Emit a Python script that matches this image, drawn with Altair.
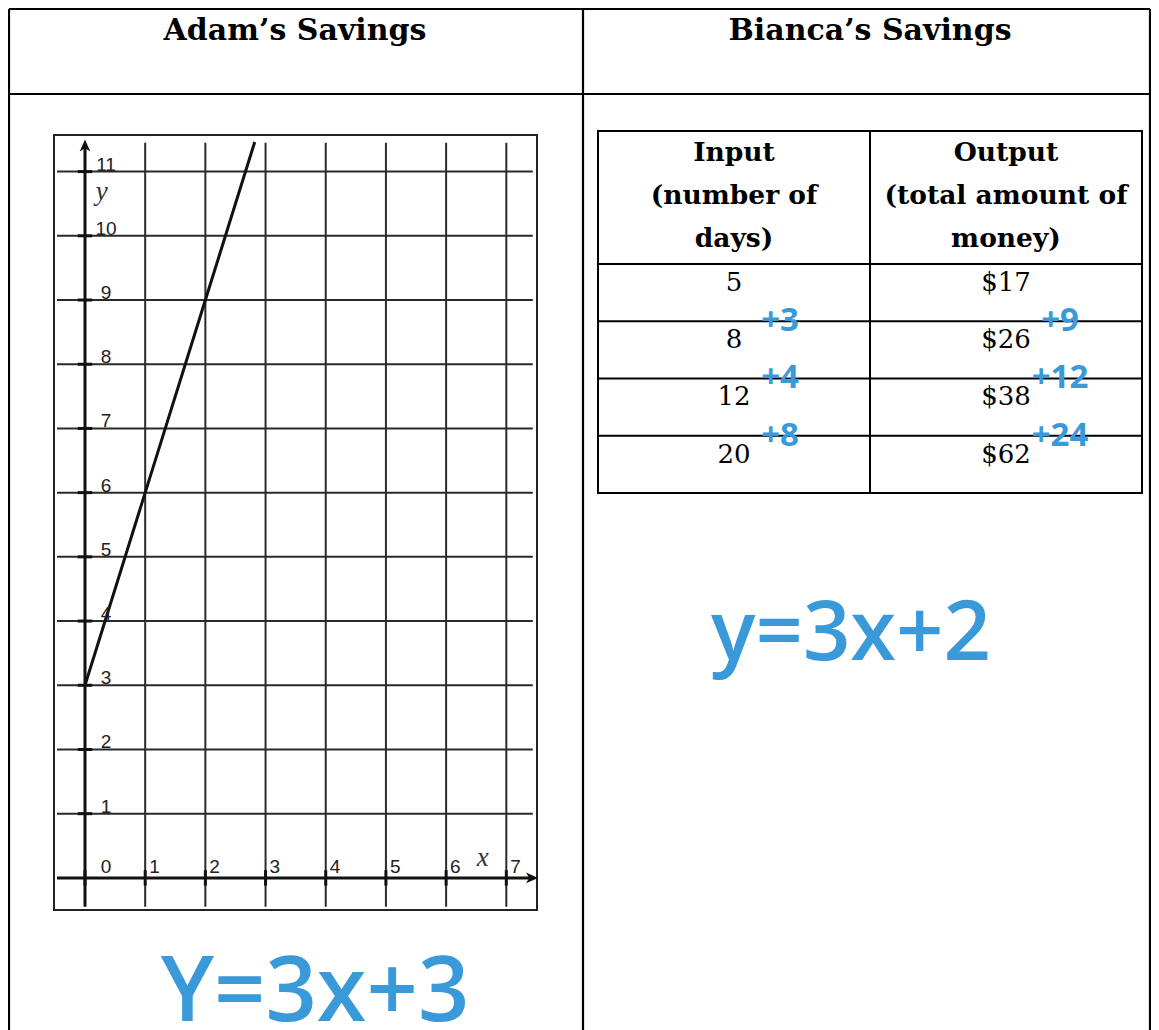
import altair as alt
import pandas as pd

# ---------------- data ----------------
titles = ["Adam\u2019s Savings", "Bianca\u2019s Savings"]
x_ticks = [0, 1, 2, 3, 4, 5, 6, 7]
y_ticks = [0, 1, 2, 3, 4, 5, 6, 7, 8, 9, 10, 11]
adam_x = [0, 1, 2, 2.82]
adam_y = [3, 6, 9, 11.46]
adam_eq = "Y=3x+3"
input_header = ["Input", "(number of", "days)"]
output_header = ["Output", "(total amount of", "money)"]
days = [5, 8, 12, 20]
money = [17, 26, 38, 62]
day_diffs = ["+3", "+4", "+8"]
money_diffs = ["+9", "+12", "+24"]
bianca_eq = "y=3x+2"

# ---------------- layout ----------------
W, H = 1143, 1030
OFF = 8
BLUE = "#3a9ad9"
SERIF = "DejaVu Serif"
HAND = "Open Sans"


def sc(domain, rng):
    return alt.Scale(domain=domain, range=rng, nice=False, zero=False)


# page scale (layout frame, headings, handwritten equations)
PX = sc([OFF, OFF + W], [0, W])
PY = sc([OFF, OFF + H], [0, H])
# graph scale (Adam's graph)
GX = sc([-0.515, 7.51], [46, 529])
GY = sc([-0.5, 11.57], [902, 127])
# table scale (Bianca's table): columns 0..2, rows (header above 0)
TX = sc([0, 2], [590, 1134])
TY = sc([-2.32, 4], [123, 485])


def enc(S_x, S_y, x="x", y="y", x2=None, y2=None, **kw):
    e = dict(x=alt.X(f"{x}:Q", scale=S_x, axis=None),
             y=alt.Y(f"{y}:Q", scale=S_y, axis=None))
    if x2:
        e["x2"] = alt.X2(f"{x2}:Q")
    if y2:
        e["y2"] = alt.Y2(f"{y2}:Q")
    e.update(kw)
    return e


# ---- page layer ----
frame_df = pd.DataFrame({
    "x": [9, 9, 1150, 583, 9],
    "x2": [1150, 9, 1150, 583, 1150],
    "y": [9, 9, 9, 9, 94],
    "y2": [9, 1038, 1038, 1038, 94],
})
frame = alt.Chart(frame_df).mark_rule(color="#000", strokeWidth=2.2).encode(
    **enc(PX, PY, x2="x2", y2="y2"))

title_df = pd.DataFrame({"t": titles, "x": [295, 870], "y": [31, 31]})
title_marks = alt.Chart(title_df).mark_text(
    font=SERIF, fontWeight="bold", fontSize=30, color="#000", baseline="middle"
).encode(**enc(PX, PY, text=alt.Text("t:N")))

eq1 = alt.Chart(pd.DataFrame({"t": [adam_eq], "x": [315], "y": [1021]})).mark_text(
    font=HAND, fontWeight=600, fontSize=90, color=BLUE, baseline="alphabetic"
).encode(**enc(PX, PY, text=alt.Text("t:N")))
eq2 = alt.Chart(pd.DataFrame({"t": [bianca_eq], "x": [851], "y": [660]})).mark_text(
    font=HAND, fontWeight=600, fontSize=83, color=BLUE, baseline="alphabetic"
).encode(**enc(PX, PY, text=alt.Text("t:N")))

page = alt.layer(frame, title_marks, eq1, eq2)

# ---- graph layer ----
box = alt.Chart(pd.DataFrame({"x": [-0.515], "x2": [7.51], "y": [-0.5], "y2": [11.57]})).mark_rect(
    fill="white", stroke="#222", strokeWidth=2
).encode(**enc(GX, GY, x2="x2", y2="y2"))

vgrid_df = pd.DataFrame({"x": x_ticks[1:]})
vgrid_df["y"] = -0.45
vgrid_df["y2"] = 11.45
vgrid = alt.Chart(vgrid_df).mark_rule(color="#2a2a2a", strokeWidth=2).encode(
    x=alt.X("x:Q", scale=GX, axis=None), y=alt.Y("y:Q", scale=GY, axis=None), y2="y2:Q")

hgrid_df = pd.DataFrame({"y": y_ticks[1:]})
hgrid_df["x"] = -0.465
hgrid_df["x2"] = 7.44
hgrid = alt.Chart(hgrid_df).mark_rule(color="#2a2a2a", strokeWidth=2).encode(
    x=alt.X("x:Q", scale=GX, axis=None), x2="x2:Q", y=alt.Y("y:Q", scale=GY, axis=None))

axes_df = pd.DataFrame({"x": [-0.465, 0], "x2": [7.42, 0], "y": [0, -0.45], "y2": [0, 11.4]})
axes = alt.Chart(axes_df).mark_rule(color="#111", strokeWidth=3).encode(
    **enc(GX, GY, x2="x2", y2="y2"))

ytick_df = pd.DataFrame({"y": y_ticks[1:]})
ytick_df["x"] = -0.12
ytick_df["x2"] = 0.12
yticks = alt.Chart(ytick_df).mark_rule(color="#111", strokeWidth=3).encode(
    x=alt.X("x:Q", scale=GX, axis=None), x2="x2:Q", y=alt.Y("y:Q", scale=GY, axis=None))

xtick_df = pd.DataFrame({"x": x_ticks})
xtick_df["y"] = -0.12
xtick_df["y2"] = 0.12
xticks = alt.Chart(xtick_df).mark_rule(color="#111", strokeWidth=3).encode(
    x=alt.X("x:Q", scale=GX, axis=None), y=alt.Y("y:Q", scale=GY, axis=None), y2="y2:Q")

up_arrow = alt.Chart(pd.DataFrame({"x": [0], "y": [11.39]})).mark_point(
    shape="M0,-1L0.75,0.7L0,0.25L-0.75,0.7Z", filled=True, size=200, color="#111", opacity=1
).encode(**enc(GX, GY))
right_arrow = alt.Chart(pd.DataFrame({"x": [7.41], "y": [0]})).mark_point(
    shape="M1,0L-0.7,0.75L-0.25,0L-0.7,-0.75Z", filled=True, size=200, color="#111", opacity=1
).encode(**enc(GX, GY))

adam_line = alt.Chart(pd.DataFrame({"x": adam_x, "y": adam_y})).mark_line(
    color="#111", strokeWidth=3
).encode(**enc(GX, GY))

ylab_df = pd.DataFrame({"y": y_ticks[1:], "t": [str(v) for v in y_ticks[1:]]})
ylab_df["x"] = 0.35
ylabels = alt.Chart(ylab_df).mark_text(
    font="Liberation Sans", fontSize=19, color="#222", baseline="alphabetic", dy=-1
).encode(**enc(GX, GY, text=alt.Text("t:N")))

zero_df = pd.DataFrame({"y": [y_ticks[0]], "t": [str(y_ticks[0])]})
zero_df["x"] = 0.35
zerolab = alt.Chart(zero_df).mark_text(
    font="Liberation Sans", fontSize=19, color="#222", baseline="alphabetic", dy=-5
).encode(**enc(GX, GY, text=alt.Text("t:N")))

xlab_df = pd.DataFrame({"x": x_ticks[1:], "t": [str(v) for v in x_ticks[1:]]})
xlab_df["y"] = 0
xlabels = alt.Chart(xlab_df).mark_text(
    font="Liberation Sans", fontSize=19, color="#222", baseline="alphabetic", align="left", dx=4, dy=-5
).encode(**enc(GX, GY, text=alt.Text("t:N")))

axis_titles = alt.Chart(pd.DataFrame({"t": ["y", "x"], "x": [0.28, 6.61], "y": [10.69, 0.31]})).mark_text(
    font="Liberation Serif", fontStyle="italic", fontSize=27, color="#333", baseline="middle"
).encode(**enc(GX, GY, text=alt.Text("t:N")))

graph = alt.layer(box, vgrid, hgrid, axes, yticks, xticks, adam_line,
                  up_arrow, right_arrow, ylabels, zerolab, xlabels, axis_titles)

# ---- table layer ----
tbox = alt.Chart(pd.DataFrame({"x": [0], "x2": [2], "y": [-2.32], "y2": [4]})).mark_rect(
    fill="white", stroke="#000", strokeWidth=2
).encode(**enc(TX, TY, x2="x2", y2="y2"))

tlines_df = pd.DataFrame({"x": [1, 0, 0, 0, 0], "x2": [1, 2, 2, 2, 2],
                          "y": [-2.32, 0, 1, 2, 3], "y2": [4, 0, 1, 2, 3]})
tlines = alt.Chart(tlines_df).mark_rule(color="#000", strokeWidth=2).encode(
    **enc(TX, TY, x2="x2", y2="y2"))

head_line_y = [-1.94, -1.19, -0.44]
head_df = pd.DataFrame({
    "t": input_header + output_header,
    "x": [0.5] * len(input_header) + [1.5] * len(output_header),
    "y": head_line_y * 2,
})
heads = alt.Chart(head_df).mark_text(
    font=SERIF, fontWeight="bold", fontSize=26.5, color="#000", baseline="middle"
).encode(**enc(TX, TY, text=alt.Text("t:N")))

vals_df = pd.DataFrame({
    "t": [str(d) for d in days] + ["$" + str(m) for m in money],
    "x": [0.5] * len(days) + [1.5] * len(money),
    "y": [i + 0.33 for i in range(len(days))] * 2,
})
vals = alt.Chart(vals_df).mark_text(
    font=SERIF, fontSize=26, color="#000", baseline="middle"
).encode(**enc(TX, TY, text=alt.Text("t:N")))

din_df = pd.DataFrame({"t": day_diffs, "y": [k + 1 for k in range(len(day_diffs))]})
din_df["x"] = 0.5
dins = alt.Chart(din_df).mark_text(
    font=HAND, fontWeight=700, fontSize=33, color=BLUE, baseline="middle", dx=46
).encode(**enc(TX, TY, text=alt.Text("t:N")))

dout_df = pd.DataFrame({"t": money_diffs, "y": [k + 1 for k in range(len(money_diffs))]})
dout_df["x"] = 1.5
douts = alt.Chart(dout_df).mark_text(
    font=HAND, fontWeight=700, fontSize=33, color=BLUE, baseline="middle", dx=54
).encode(**enc(TX, TY, text=alt.Text("t:N")))

table = alt.layer(tbox, tlines, heads, vals, dins, douts)

chart = alt.layer(page, graph, table).resolve_scale(
    x="independent", y="independent"
).properties(
    width=W, height=H, autosize=alt.AutoSizeParams(type="none"), padding=0,
    background="white"
).configure_view(stroke=None)

chart.save("out.html", embed_options={"renderer": "svg", "actions": False})
